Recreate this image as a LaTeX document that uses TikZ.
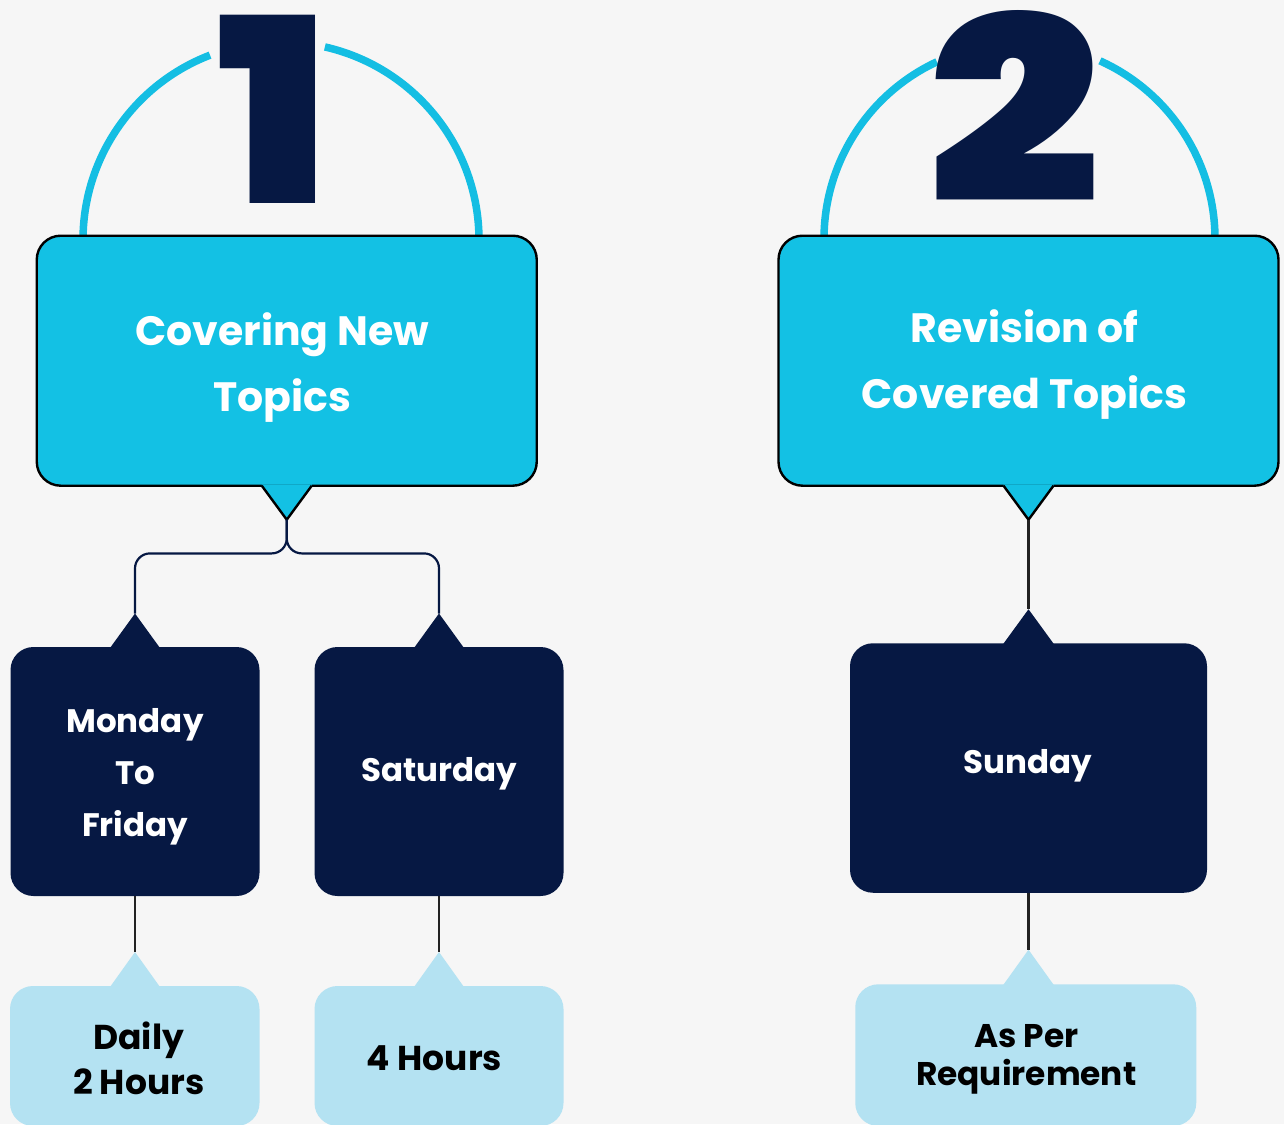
\documentclass[tikz,border=0pt]{standalone}
\usepackage{fontspec}
\usepackage{graphicx}
\setmainfont{Poppins}
\newfontfamily\numfont{Poppins Black}
\usetikzlibrary{calc}
\definecolor{bg}{HTML}{F6F6F6}
\definecolor{cyanc}{HTML}{13C1E4}
\definecolor{arcc}{HTML}{14BEE3}
\definecolor{navy}{HTML}{061843}
\definecolor{lightc}{HTML}{B4E2F2}
\definecolor{greyline}{HTML}{222222}
\tikzset{
 topbox/.style={fill=cyanc, draw=black, line width=2.4pt, rounded corners=24pt, minimum width=500pt, minimum height=250pt, inner sep=0pt, outer sep=0pt},
 toptext/.style={inner sep=0pt, text=white, align=center, font=\bfseries\fontsize{41}{66}\selectfont},
 darkbox/.style={fill=navy, rounded corners=23pt, minimum height=249pt, inner sep=0pt, outer sep=0pt},
 darktext/.style={inner sep=0pt, text=white, align=center, font=\bfseries\fontsize{32.5}{52}\selectfont},
 lightbox/.style={fill=lightc, rounded corners=23pt, minimum height=140pt, inner sep=0pt, outer sep=0pt},
 lighttext/.style={inner sep=0pt, text=black, align=center, font=\bfseries\fontsize{34.5}{45}\selectfont},
 arcline/.style={draw=arcc, line width=7.5pt},
 digit/.style={inner sep=0pt, outer sep=0pt, text=navy, anchor=south},
 conn/.style={draw=navy, line width=2.2pt, rounded corners=15pt},
 connd/.style={draw=greyline, line width=2.4pt},
 pointline/.style={draw=black, line width=2.4pt},
}
\begin{document}
\begin{tikzpicture}[x=1pt,y=-1pt]
\useasboundingbox (0,0) rectangle (1284,1124);
\fill[bg] (0,0) rectangle (1284,1124);
\begin{scope}
\clip (0,0) rectangle (1284,1124);
% arcs
\draw[arcline] (281,240) ++(180:198) arc[start angle=180, end angle=249, radius=198];
\draw[arcline] (281,240) ++(282.8:198) arc[start angle=282.8, end angle=360, radius=198];
\draw[arcline] (1019.5,239) ++(180:195.5) arc[start angle=180, end angle=245, radius=195.5];
\draw[arcline] (1019.5,239) ++(294.3:195.5) arc[start angle=294.3, end angle=360, radius=195.5];
% digits
\node[digit] (n1) at (274,203.6) {\scalebox{1.09}[1]{\resizebox{!}{188pt}{\numfont 1}}};
\node[digit] (n2) at (1014,202.5) {\scalebox{1.18}[1]{\resizebox{!}{192pt}{\numfont 2}}};
% top boxes
\node[topbox] (b1) at (286.75,360.7) {};
\node[topbox] (b2) at (1028.5,360.7) {};
\node[toptext] (b1x) at ($(b1.center)+(-4.5,6.5)$) {Covering New\\Topics};
\node[toptext] (b2x) at ($(b2.center)+(-4,3.5)$) {Revision of\\Covered Topics};
\coordinate (b1t) at ($(b1.south)+(0,34)$);
\coordinate (b2t) at ($(b2.south)+(0,34)$);
\fill[cyanc] ($(b1.south)+(-25,-1.3)$) -- ($(b1.south)+(25,-1.3)$) -- ($(b1.south)+(25,0)$) -- (b1t) -- ($(b1.south)+(-25,0)$) -- cycle;
\draw[pointline] ($(b1.south)+(-25,0)$) -- (b1t) -- ($(b1.south)+(25,0)$);
\fill[cyanc] ($(b2.south)+(-25,-1.3)$) -- ($(b2.south)+(25,-1.3)$) -- ($(b2.south)+(25,0)$) -- (b2t) -- ($(b2.south)+(-25,0)$) -- cycle;
\draw[pointline] ($(b2.south)+(-25,0)$) -- (b2t) -- ($(b2.south)+(25,0)$);
% dark boxes
\node[darkbox, minimum width=249pt] (d1) at (135,771.5) {};
\node[darkbox, minimum width=249pt] (d2) at (439,771.5) {};
\node[darkbox, minimum width=357pt, minimum height=249.5pt] (d3) at (1028.5,768) {};
\node[darktext] (d1x) at ($(d1.center)+(0,5.5)$) {Monday\\To\\Friday};
\node[darktext] (d2x) at ($(d2.center)+(0,2.5)$) {Saturday};
\node[darktext] (d3x) at ($(d3.center)+(-1,-2)$) {Sunday};
\coordinate (d1t) at ($(d1.north)+(0,-33.5)$);
\coordinate (d2t) at ($(d2.north)+(0,-33.5)$);
\coordinate (d3t) at ($(d3.north)+(0,-34)$);
\fill[navy] ($(d1.north)+(-25,1)$) -- (d1t) -- ($(d1.north)+(25,1)$) -- cycle;
\fill[navy] ($(d2.north)+(-25,1)$) -- (d2t) -- ($(d2.north)+(25,1)$) -- cycle;
\fill[navy] ($(d3.north)+(-25.5,1)$) -- (d3t) -- ($(d3.north)+(25.5,1)$) -- cycle;
% light boxes
\node[lightbox, minimum width=249.5pt] (l1) at (134.75,1056) {};
\node[lightbox, minimum width=249pt] (l2) at (439,1056) {};
\node[lightbox, minimum width=341pt, minimum height=141.7pt] (l3) at (1025.75,1055.15) {};
\node[lighttext] (l1x) at ($(l1.center)+(4,2.5)$) {Daily\\2 Hours};
\node[lighttext] (l2x) at ($(l2.center)+(-4.5,2)$) {4 Hours};
\node[lighttext, font=\bfseries\fontsize{32.8}{38}\selectfont] (l3x) at ($(l3.center)+(0.5,4.5)$) {As Per\\Requirement};
\coordinate (l1t) at ($(l1.north)+(0.25,-34)$);
\coordinate (l2t) at ($(l2.north)+(0,-34)$);
\coordinate (l3t) at ($(l3.north)+(2.75,-34.6)$);
\fill[lightc] ($(l1t)+(-25,35)$) -- (l1t) -- ($(l1t)+(25,35)$) -- cycle;
\fill[lightc] ($(l2t)+(-25,35)$) -- (l2t) -- ($(l2t)+(25,35)$) -- cycle;
\fill[lightc] ($(l3t)+(-25.5,35.6)$) -- (l3t) -- ($(l3t)+(25.5,35.6)$) -- cycle;
% connectors
\coordinate (j1) at ($(b1t)+(0,33.7)$);
\draw[conn] (b1t) -- (j1) -| (d1t);
\draw[conn] (b1t) -- (j1) -| (d2t);
\draw[connd] (b2t) -- (d3t);
\draw[connd] (d1.south) -- (l1t);
\draw[connd] (d2.south) -- (l2t);
\draw[connd] (d3.south) -- (l3t);
\end{scope}
\end{tikzpicture}
\end{document}
